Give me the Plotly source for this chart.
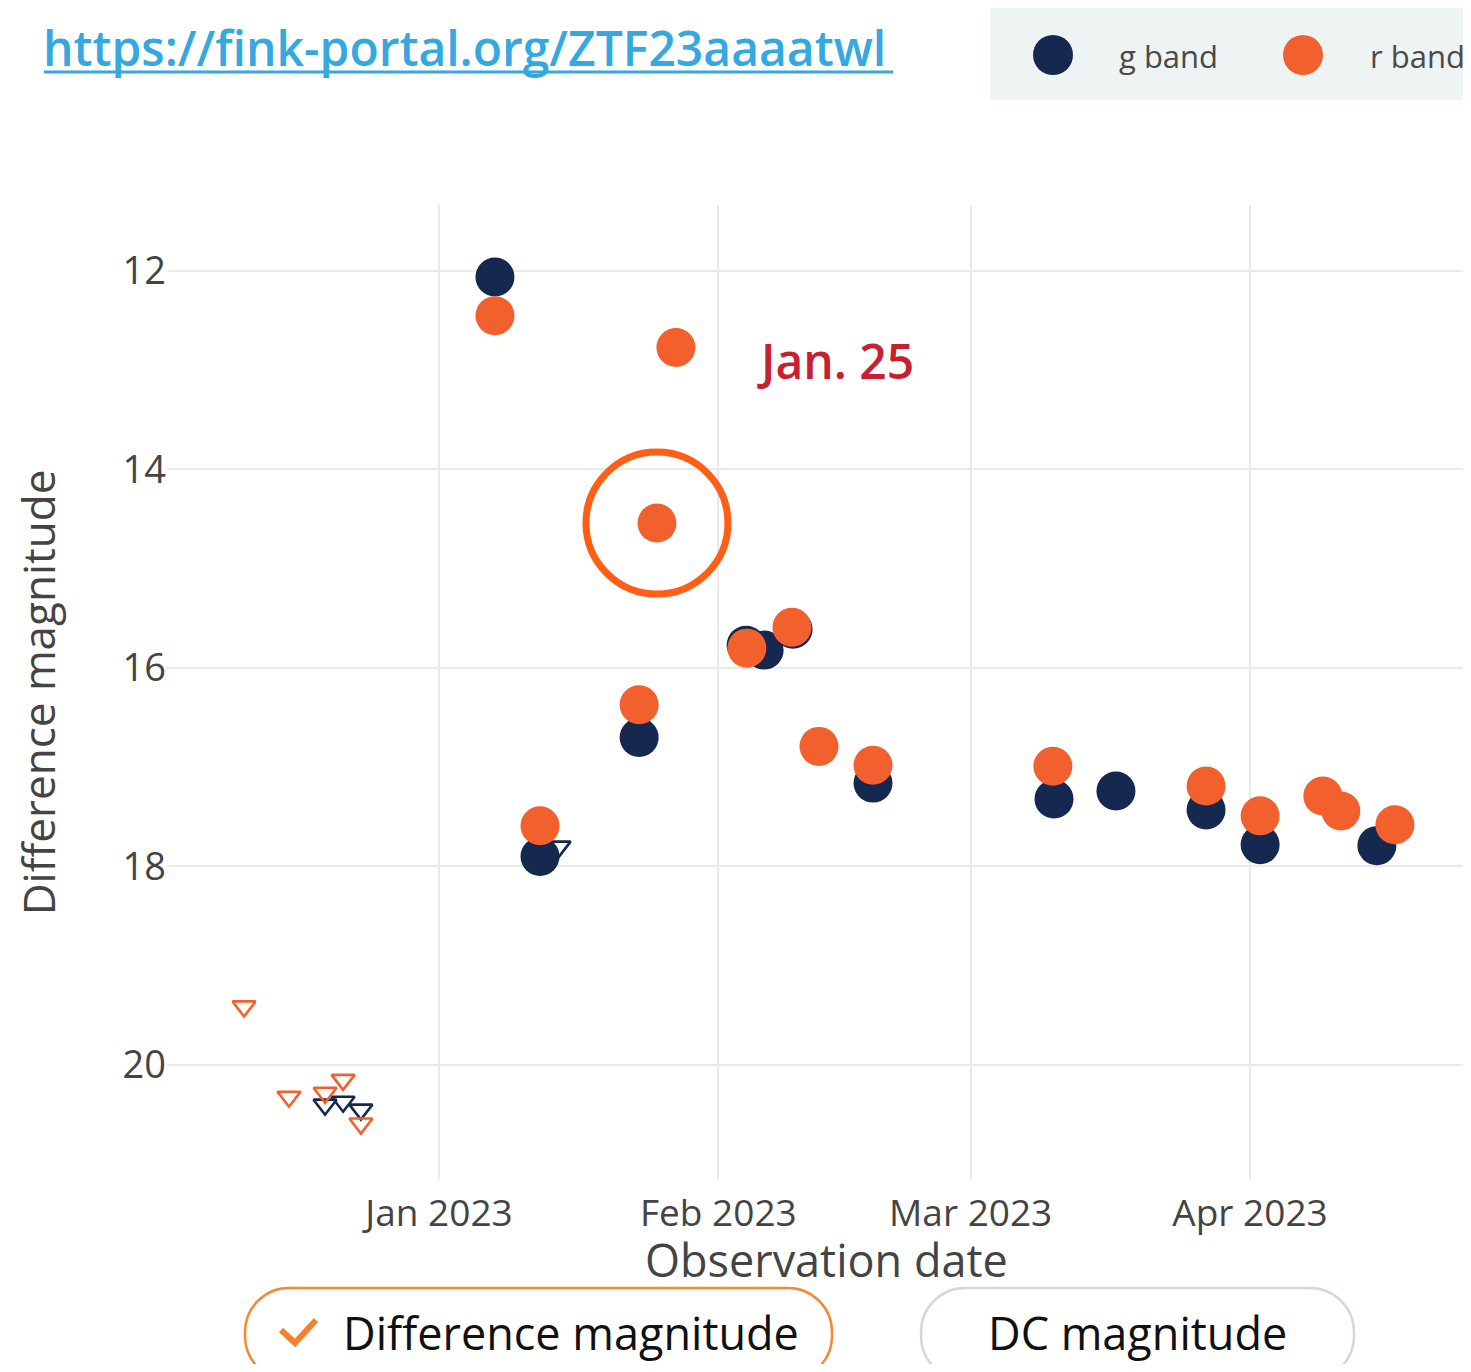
import plotly.graph_objects as go

# ---------------- data ----------------
g_dates = ["2023-01-07 05:00", "2023-01-12 05:00", "2023-01-23 05:00", "2023-02-04 02:00",
           "2023-02-06 02:00", "2023-02-09 07:00", "2023-02-18 04:00", "2023-03-10 06:00",
           "2023-03-17 03:00", "2023-03-27 03:00", "2023-04-02 03:00", "2023-04-15 02:00"]
g_mags = [12.06, 17.90, 16.70, 15.77, 15.82, 15.61, 17.16, 17.32, 17.24, 17.43, 17.78, 17.79]

r_dates = ["2023-01-07 05:00", "2023-01-12 05:00", "2023-01-23 05:00", "2023-01-25 04:30",
           "2023-01-27 07:00", "2023-02-04 04:00", "2023-02-09 04:00", "2023-02-12 04:00",
           "2023-02-18 04:00", "2023-03-10 03:00", "2023-03-27 03:00", "2023-04-02 03:00",
           "2023-04-09 02:00", "2023-04-11 02:00", "2023-04-17 02:00"]
r_mags = [12.45, 17.59, 16.37, 14.54, 12.77, 15.80, 15.59, 16.79, 16.98, 16.99, 17.19, 17.49,
          17.29, 17.44, 17.58]

g_ul_dates = ["2022-12-19 08:30", "2022-12-21 08:30", "2022-12-23 08:00", "2023-01-14 07:40"]
g_ul_mags = [20.40, 20.37, 20.45, 17.80]

r_ul_dates = ["2022-12-10 08:40", "2022-12-15 08:30", "2022-12-19 08:30", "2022-12-21 08:30",
              "2022-12-23 08:00"]
r_ul_mags = [19.41, 20.32, 20.28, 20.15, 20.59]

highlight_date = "2023-01-25 04:30"
highlight_mag = 14.54

y_ticks = [12, 14, 16, 18, 20]
x_range = ["2022-12-01 19:30", "2023-04-25 12:40"]
y_range = [21.159, 11.335]

G_COLOR = "#15284F"
R_COLOR = "#F2612D"

# ---------------- layout geometry ----------------
# the page renders the figure with an 8px body margin; coordinates below are page pixels
OFF = 8
W, H = 1471 - OFF, 1372 - 2 * OFF
ML, MR, MT = 167 - OFF, 0, 205 - OFF
MB = H - (1180 - OFF)
PW, PH = W - ML - MR, H - MT - MB


def px(x):
    return (x - OFF - ML) / PW


def py(y):
    return (H - MB - (y - OFF)) / PH


fig = go.Figure()

fig.add_trace(go.Scatter(x=g_ul_dates, y=g_ul_mags, mode="markers", name="g band upper limit",
                         marker=dict(symbol="triangle-down-open", size=20, color=G_COLOR,
                                     line=dict(width=2.6, color=G_COLOR))))
fig.add_trace(go.Scatter(x=r_ul_dates, y=r_ul_mags, mode="markers", name="r band upper limit",
                         marker=dict(symbol="triangle-down-open", size=20, color=R_COLOR,
                                     line=dict(width=2.6, color=R_COLOR))))
fig.add_trace(go.Scatter(x=g_dates, y=g_mags, mode="markers", name="g band",
                         marker=dict(symbol="circle", size=39, color=G_COLOR)))
fig.add_trace(go.Scatter(x=r_dates, y=r_mags, mode="markers", name="r band",
                         marker=dict(symbol="circle", size=39, color=R_COLOR)))

shapes = []
annotations = []

# highlight circle around Jan. 25 point
shapes.append(dict(type="circle", xref="x", yref="y", xsizemode="pixel", ysizemode="pixel",
                   xanchor=highlight_date, yanchor=highlight_mag,
                   x0=-71, x1=71, y0=-71, y1=71,
                   line=dict(color="#FF5F14", width=7), fillcolor="rgba(0,0,0,0)"))

# custom legend box
shapes.append(dict(type="rect", xref="paper", yref="paper", x0=px(990), x1=px(1490),
                   y0=py(100), y1=py(8), fillcolor="#EEF3F4", line=dict(width=0), layer="below"))
for cx, col in [(1053, G_COLOR), (1303, R_COLOR)]:
    shapes.append(dict(type="circle", xref="paper", yref="paper",
                       x0=px(cx - 20), x1=px(cx + 20), y0=py(75), y1=py(35),
                       fillcolor=col, line=dict(width=0)))
for tx, label in [(1117, "g band"), (1368, "r band")]:
    annotations.append(dict(text=label, xref="paper", yref="paper", x=px(tx), y=py(56),
                            xanchor="left", yanchor="middle", showarrow=False,
                            font=dict(family="Open Sans", size=31, color="#4a4a4a")))

# link text
annotations.append(dict(text="https://fink-portal.org/ZTF23aaaatwl", xref="paper", yref="paper",
                        x=px(41), y=py(47), xanchor="left", yanchor="middle", showarrow=False,
                        font=dict(family="Open Sans", size=48, weight=600, color="#35A8DF")))
shapes.append(dict(type="line", xref="paper", yref="paper", x0=px(44), x1=px(893),
                   y0=py(72), y1=py(72), line=dict(color="#35A8DF", width=3)))

# Jan. 25 label
annotations.append(dict(text="Jan. 25", xref="paper", yref="paper", x=px(755), y=py(360),
                        xanchor="left", yanchor="middle", showarrow=False,
                        font=dict(family="Open Sans", size=48, weight=600, color="#C8202F")))

# x axis title placed as text under the tick labels
annotations.append(dict(text="Observation date", xref="paper", yref="paper", x=px(826),
                        y=py(1259), xanchor="center", yanchor="middle", showarrow=False,
                        font=dict(family="Open Sans", size=45, color="#444")))


# buttons
def pill(x0, x1, y0, y1, r, color):
    k = 0.5523 * r
    pts = [
        f"M{px(x0)},{py(y0 + r)}",
        f"C{px(x0)},{py(y0 + r - k)} {px(x0 + r - k)},{py(y0)} {px(x0 + r)},{py(y0)}",
        f"L{px(x1 - r)},{py(y0)}",
        f"C{px(x1 - r + k)},{py(y0)} {px(x1)},{py(y0 + r - k)} {px(x1)},{py(y0 + r)}",
        f"L{px(x1)},{py(y1 - r)}",
        f"C{px(x1)},{py(y1 - r + k)} {px(x1 - r + k)},{py(y1)} {px(x1 - r)},{py(y1)}",
        f"L{px(x0 + r)},{py(y1)}",
        f"C{px(x0 + r - k)},{py(y1)} {px(x0)},{py(y1 - r + k)} {px(x0)},{py(y1 - r)}",
        "Z",
    ]
    return dict(type="path", xref="paper", yref="paper", path=" ".join(pts),
                line=dict(color=color, width=2.5), fillcolor="white")


shapes.append(pill(245, 832, 1288, 1380, 44, "#F5892E"))
shapes.append(pill(921, 1354, 1288, 1380, 44, "#D3D8DE"))
shapes.append(dict(type="path", xref="paper", yref="paper",
                   path=f"M{px(281)},{py(1330)} L{px(295)},{py(1343)} L{px(316)},{py(1320)}",
                   line=dict(color="#F5822A", width=6)))
annotations.append(dict(text="Difference magnitude", xref="paper", yref="paper", x=px(341),
                        y=py(1332), xanchor="left", yanchor="middle", showarrow=False,
                        font=dict(family="Open Sans", size=45, color="#111111")))
annotations.append(dict(text="DC magnitude", xref="paper", yref="paper", x=px(986),
                        y=py(1332), xanchor="left", yanchor="middle", showarrow=False,
                        font=dict(family="Open Sans", size=45, color="#111111")))

fig.update_layout(
    width=W, height=H,
    margin=dict(l=ML, r=MR, t=MT, b=MB, pad=0),
    paper_bgcolor="white", plot_bgcolor="white",
    showlegend=False,
    shapes=shapes, annotations=annotations,
    font=dict(family="Open Sans", color="#444"),
)
fig.update_xaxes(range=x_range, type="date", dtick="M1", tickformat="%b %Y",
                 showgrid=True, gridcolor="#EAEAEA", gridwidth=2, zeroline=False,
                 showline=False, ticks="", ticklabelstandoff=8,
                 tickfont=dict(size=37, color="#444"), automargin=False)
fig.update_yaxes(range=y_range, tickvals=y_ticks, showgrid=True, gridcolor="#EAEAEA",
                 gridwidth=2, zeroline=False, showline=False, ticks="",
                 tickfont=dict(size=38, color="#444"),
                 title=dict(text="Difference magnitude", font=dict(size=44, color="#444"), standoff=53),
                 automargin=False)

fig.write_html("out.html")
